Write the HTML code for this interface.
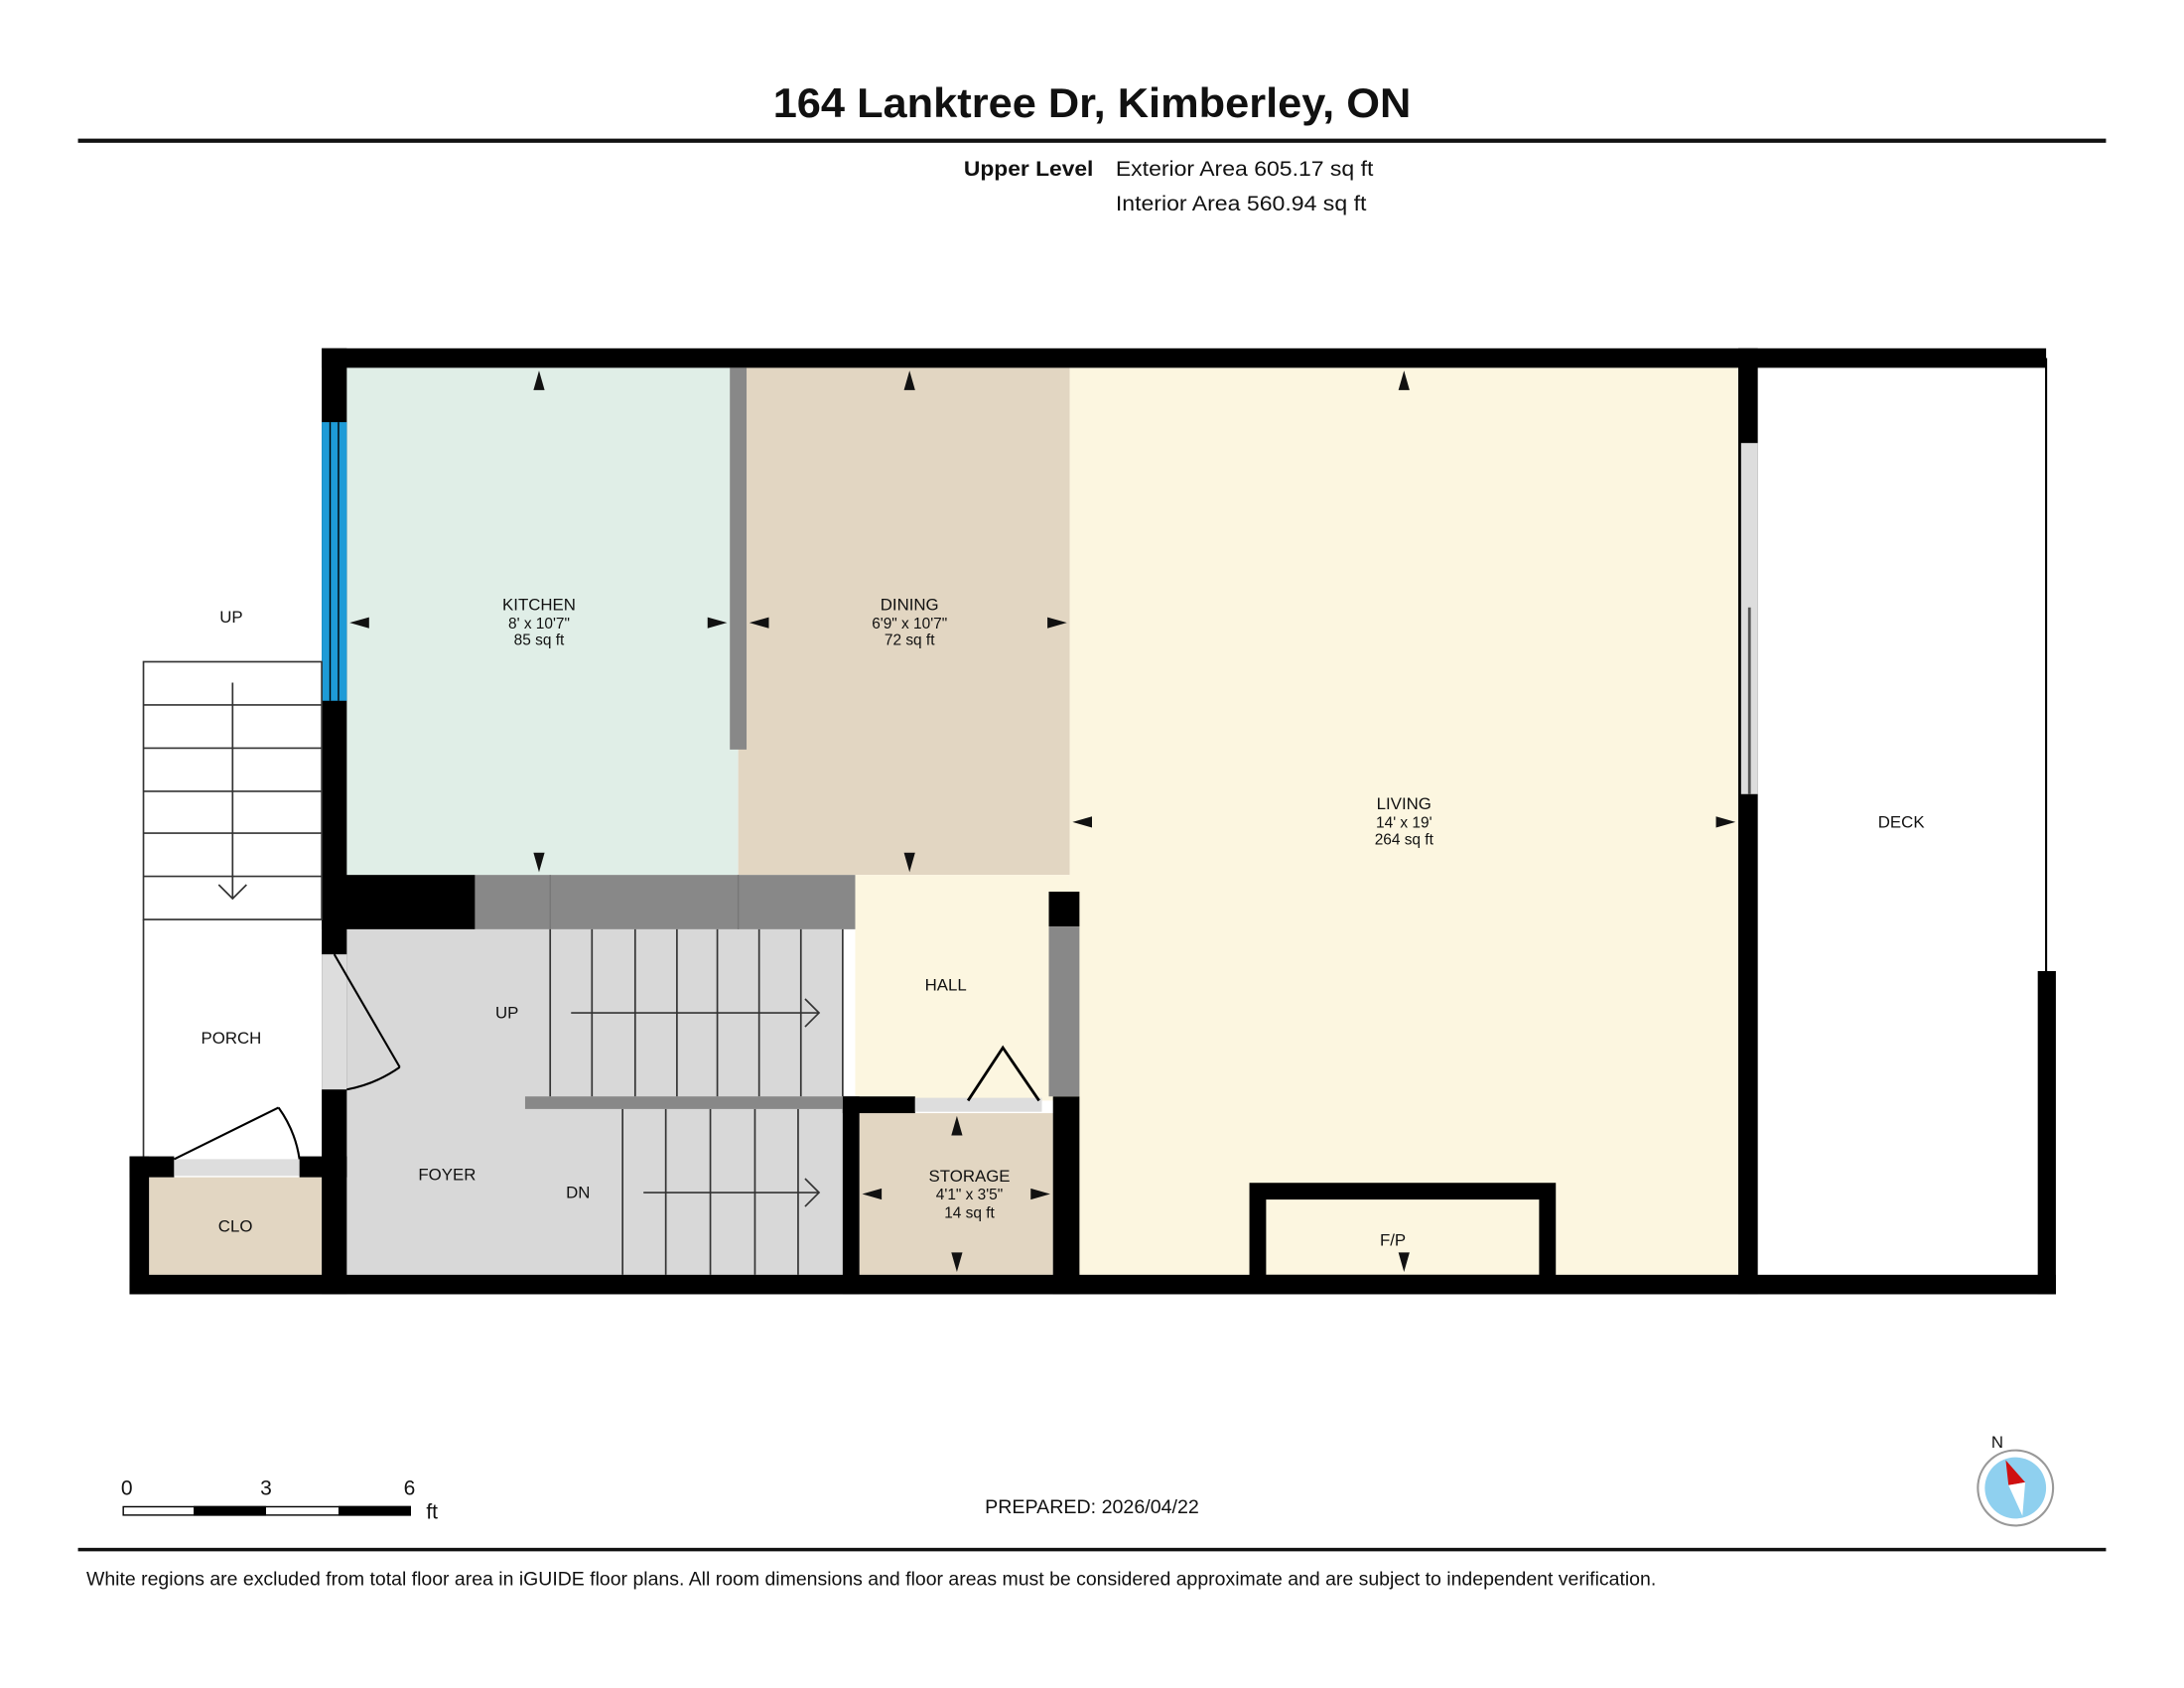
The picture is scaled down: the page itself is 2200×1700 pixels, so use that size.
<!DOCTYPE html>
<html><head><meta charset="utf-8"><style>
html,body{margin:0;padding:0;background:#fff;}
svg{display:block;}
text{font-family:"Liberation Sans",Arial,sans-serif;fill:#111;}
</style></head><body>
<svg width="2200" height="1700" viewBox="0 0 1568 1211.6" preserveAspectRatio="none" xmlns="http://www.w3.org/2000/svg">
<rect width="1568" height="1212" fill="#fff"/>
<text x="555" y="84" font-size="30" font-weight="bold" textLength="458" lengthAdjust="spacingAndGlyphs">164 Lanktree Dr, Kimberley, ON</text>
<rect x="56" y="99.5" width="1456" height="3" fill="#111"/>
<text x="692" y="126" font-size="15" font-weight="bold" textLength="93" lengthAdjust="spacingAndGlyphs">Upper Level</text>
<text x="801" y="126" font-size="15" textLength="185" lengthAdjust="spacingAndGlyphs">Exterior Area 605.17 sq ft</text>
<text x="801" y="151" font-size="15" textLength="180" lengthAdjust="spacingAndGlyphs">Interior Area 560.94 sq ft</text>

<!-- fills -->
<rect x="249" y="264" width="281" height="364" fill="#e0eee7"/>
<rect x="530" y="264" width="238" height="364" fill="#e2d6c2"/>
<rect x="768" y="264" width="480" height="651" fill="#fcf6e0"/>
<rect x="614" y="628" width="154" height="162" fill="#fcf6e0"/>
<rect x="249" y="667" width="356" height="248" fill="#d8d8d8"/>
<rect x="617" y="799" width="139" height="116" fill="#e2d6c2"/>
<rect x="107" y="845" width="124" height="70" fill="#e2d6c2"/>

<!-- walls -->
<rect x="231" y="250" width="1238" height="14" fill="#000"/>
<rect x="231" y="250" width="18" height="679" fill="#000"/>
<rect x="231" y="303" width="18" height="200" fill="#1e9bd7"/>
<line x1="237" y1="303" x2="237" y2="503" stroke="#000" stroke-width="1"/>
<line x1="243" y1="303" x2="243" y2="503" stroke="#000" stroke-width="1"/>
<rect x="231" y="685" width="18" height="97" fill="#ddd"/>
<rect x="93" y="915" width="1383" height="14" fill="#000"/>
<rect x="1248" y="250" width="14" height="679" fill="#000"/>
<rect x="1250" y="318" width="12" height="252" fill="#ddd"/>
<line x1="1256" y1="436" x2="1256" y2="570" stroke="#555" stroke-width="2"/>
<line x1="1469" y1="257" x2="1469" y2="697" stroke="#000" stroke-width="1.5"/>
<rect x="1463" y="697" width="13" height="232" fill="#000"/>
<rect x="524" y="264" width="12" height="274" fill="#888"/>
<rect x="231" y="628" width="110" height="39" fill="#000"/>
<rect x="341" y="628" width="273" height="39" fill="#888"/>
<line x1="395" y1="628" x2="395" y2="667" stroke="#777"/><line x1="530" y1="628" x2="530" y2="667" stroke="#777"/>
<!-- storage walls -->
<rect x="605" y="787" width="12" height="142" fill="#000"/>
<rect x="756" y="787" width="19" height="142" fill="#000"/>
<rect x="605" y="787" width="52" height="12" fill="#000"/>
<rect x="657" y="788" width="91" height="10" fill="#ddd"/>
<rect x="753" y="640" width="22" height="25" fill="#000"/>
<rect x="753" y="665" width="22" height="122" fill="#888"/>
<polyline points="695,790 720,752 746,790" fill="none" stroke="#000" stroke-width="2"/>
<!-- fireplace -->
<rect x="903" y="855" width="208" height="66" fill="none" stroke="#000" stroke-width="12"/>
<!-- stairs -->
<g stroke="#333" stroke-width="1.2" fill="none">
<line x1="395" y1="667" x2="395" y2="787"/><line x1="425" y1="667" x2="425" y2="787"/><line x1="456" y1="667" x2="456" y2="787"/><line x1="486" y1="667" x2="486" y2="787"/><line x1="515" y1="667" x2="515" y2="787"/><line x1="545" y1="667" x2="545" y2="787"/><line x1="575" y1="667" x2="575" y2="787"/><line x1="605" y1="667" x2="605" y2="787"/>
<line x1="410" y1="727" x2="588" y2="727"/><polyline points="578,717 588,727 578,737"/>
<line x1="447" y1="796" x2="447" y2="915"/><line x1="478" y1="796" x2="478" y2="915"/><line x1="510" y1="796" x2="510" y2="915"/><line x1="542" y1="796" x2="542" y2="915"/><line x1="573" y1="796" x2="573" y2="915"/>
<line x1="462" y1="856" x2="588" y2="856"/><polyline points="578,846 588,856 578,866"/>
<rect x="103" y="475" width="128" height="185"/>
<line x1="103" y1="506" x2="231" y2="506"/><line x1="103" y1="537" x2="231" y2="537"/><line x1="103" y1="568" x2="231" y2="568"/><line x1="103" y1="598" x2="231" y2="598"/><line x1="103" y1="629" x2="231" y2="629"/>
<line x1="167" y1="490" x2="167" y2="645"/><polyline points="157,635 167,645 177,635"/>
<line x1="103" y1="660" x2="103" y2="830"/>
</g>
<rect x="377" y="787" width="228" height="9" fill="#888"/>
<!-- porch / clo -->
<rect x="93" y="830" width="14" height="99" fill="#000"/>
<rect x="93" y="830" width="32" height="15" fill="#000"/>
<rect x="125" y="832" width="90" height="12" fill="#ddd"/>
<rect x="215" y="830" width="34" height="15" fill="#000"/>
<g stroke="#000" stroke-width="1.5" fill="none">
<line x1="125" y1="832" x2="200" y2="795"/><path d="M200,795 A84,84 0 0 1 215,832"/>
<line x1="240" y1="685" x2="287" y2="766"/><path d="M287,766 A97,97 0 0 1 249,782"/>
</g>
<!-- dimension arrows -->
<g fill="#111">
<polygon points="387,266 383,280 391,280"/><polygon points="387,626 383,612 391,612"/>
<polygon points="251,447 265,443 265,451"/><polygon points="522,447 508,443 508,451"/>
<polygon points="653,266 649,280 657,280"/><polygon points="653,626 649,612 657,612"/>
<polygon points="538,447 552,443 552,451"/><polygon points="766,447 752,443 752,451"/>
<polygon points="1008,266 1004,280 1012,280"/>
<polygon points="770,590 784,586 784,594"/><polygon points="1246,590 1232,586 1232,594"/>
<polygon points="1008,913 1004,899 1012,899"/>
<polygon points="687,801 683,815 691,815"/><polygon points="687,913 683,899 691,899"/>
<polygon points="619,857 633,853 633,861"/><polygon points="754,857 740,853 740,861"/>
</g>
<!-- labels -->
<g font-size="12" text-anchor="middle">
<text x="387" y="438">KITCHEN</text><text x="387" y="451" font-size="11">8' x 10'7"</text><text x="387" y="463" font-size="11">85 sq ft</text>
<text x="653" y="438">DINING</text><text x="653" y="451" font-size="11">6'9" x 10'7"</text><text x="653" y="463" font-size="11">72 sq ft</text>
<text x="1008" y="581">LIVING</text><text x="1008" y="594" font-size="11">14' x 19'</text><text x="1008" y="606" font-size="11">264 sq ft</text>
<text x="1365" y="594">DECK</text>
<text x="679" y="711">HALL</text>
<text x="696" y="848">STORAGE</text><text x="696" y="861" font-size="11">4'1" x 3'5"</text><text x="696" y="874" font-size="11">14 sq ft</text>
<text x="1000" y="894">F/P</text>
<text x="166" y="447">UP</text>
<text x="166" y="749">PORCH</text>
<text x="169" y="884">CLO</text>
<text x="364" y="731">UP</text>
<text x="321" y="847">FOYER</text>
<text x="415" y="860">DN</text>
</g>
<!-- scale bar -->
<rect x="88.5" y="1081.5" width="206" height="6" fill="#fff" stroke="#000"/>
<rect x="139" y="1081" width="52" height="7" fill="#000"/>
<rect x="243" y="1081" width="52" height="7" fill="#000"/>
<text x="91" y="1073" font-size="15" text-anchor="middle">0</text>
<text x="191" y="1073" font-size="15" text-anchor="middle">3</text>
<text x="294" y="1073" font-size="15" text-anchor="middle">6</text>
<text x="306" y="1090" font-size="15">ft</text>
<text x="784" y="1086" font-size="14" text-anchor="middle">PREPARED: 2026/04/22</text>
<!-- compass -->
<circle cx="1447" cy="1068" r="27" fill="#fff" stroke="#999" stroke-width="1.5"/>
<circle cx="1447" cy="1068" r="22" fill="#8fd0ef"/>
<polygon points="1440,1048 1454,1064 1442,1066" fill="#d01010"/>
<polygon points="1442,1066 1454,1064 1452,1088" fill="#fff"/>
<text x="1434" y="1039" font-size="12" text-anchor="middle">N</text>
<rect x="56" y="1111" width="1456" height="2.5" fill="#111"/>
<text x="62" y="1138" font-size="13.5" textLength="1127" lengthAdjust="spacingAndGlyphs">White regions are excluded from total floor area in iGUIDE floor plans. All room dimensions and floor areas must be considered approximate and are subject to independent verification.</text>
</svg>
</body></html>
